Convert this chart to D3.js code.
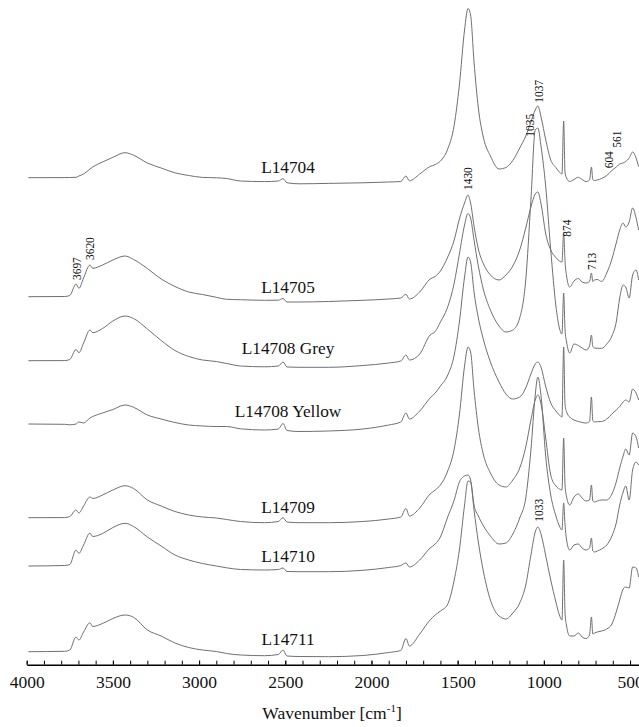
<!DOCTYPE html>
<html>
<head>
<meta charset="utf-8">
<script src="https://cdn.jsdelivr.net/npm/d3@7"></script>
<style>
  body { margin: 0; background: #fff; }
  svg { display: block; font-family: 'Liberation Serif', 'Times New Roman', serif; }
  .trace { fill: none; stroke: #707070; stroke-width: 1; }
</style>
</head>
<body>
<div class="result"></div>
<script>
// shared wavenumber grid (cm-1)
const wavenumbers = [3990, 3780, 3750, 3714, 3697, 3670, 3633, 3617, 3560, 3500,
  3430, 3380, 3300, 3220, 3140, 3060, 2980, 2900, 2840, 2760,
  2620, 2540, 2513, 2490, 2420, 2250, 2050, 1900, 1830, 1800,
  1780, 1720, 1660, 1630, 1600, 1560, 1520, 1490, 1460, 1440,
  1425, 1405, 1380, 1350, 1310, 1260, 1220, 1180, 1140, 1105,
  1075, 1050, 1035, 1015, 990, 960, 930, 910, 895, 885,
  877, 868, 850, 825, 800, 778, 755, 735, 724, 716,
  706, 690, 665, 635, 605, 580, 560, 540, 525, 505,
  485, 465, 450]

const sampleNames = ['L14704', 'L14705', 'L14708 Grey', 'L14708 Yellow', 'L14709', 'L14710', 'L14711']
// vertical stacking offset of each spectrum (a.u.)
const offsets = [486.3, 367.3, 303.3, 240, 146.3, 98, 12.3]
const labelLevels = [490.7, 371, 310, 247.3, 151.3, 102.3, 19]
const labelWavenumber = 2484

// absorbance above each trace's own baseline (a.u.)
const l14704 = [0, 0.1, 0.2, 0.4, 1.7, 3.7, 8.7, 10.7, 15.7, 20.4,
  25, 22.5, 14.7, 9.7, 4.9, 2.2, 0.3, -0.1, -0.8, -3.3,
  -3.9, -3.3, -1, -5.1, -6.1, -5.7, -5.1, -4.3, -3.8, 1.7,
  -3.1, 3.7, 11.2, 13.2, 16.7, 27.7, 52.7, 92.7, 147.7, 169.2,
  162.7, 115.7, 69.7, 39.7, 21.7, 8.7, 10.2, 17.2, 29.7, 41.7,
  55.7, 67.7, 71.7, 59.7, 38.7, 17.7, 10.2, 5.7, 3.7, 56.7,
  4.7, -0.3, -3.8, -1.8, 0.4, -1.8, -3.8, -2.3, 10.7, -1.8,
  -2.8, -2.3, -0.8, 2.2, 7.2, 10.7, 13.7, 14.7, 16.2, 19.7,
  25.7, 19.7, 11]
const l14705 = [0, 0.2, 1.2, 12.7, 8.4, 18.7, 31.7, 28.4, 31.7, 36.7,
  40.7, 37.2, 28.2, 17.7, 10.2, 4.7, 2.2, -0.6, -2.6, -3,
  -3.6, -3.5, -1.8, -5.3, -5.3, -4.8, -3.6, -2.3, -1.3, 2.4,
  -2.3, 4.7, 17.7, 20.2, 25.7, 38.7, 56.7, 77.7, 93.7, 101.7,
  93.7, 70.7, 47.7, 32.7, 21.7, 16.7, 21.7, 30.7, 46.7, 68.7,
  89.7, 102.7, 104.7, 91.7, 63.7, 46.7, 39.2, 35.7, 34.7, 63.7,
  34.7, 20.7, 9.7, 15.7, 18.2, 14.7, 13.7, 15.2, 23.7, 15.2,
  16.7, 17.2, 15.2, 23.7, 37.7, 53.7, 66.7, 73.7, 69.7, 74.7,
  88.7, 78.7, 66.7]
const l14708Grey = [0, 0.1, 1.2, 11.2, 8, 17.7, 30.7, 28, 32.2, 39.7,
  44.7, 42.2, 31.7, 20.2, 10.2, 4.2, 0.7, -0.8, -2.8, -5.3,
  -6.1, -5.3, -1.3, -6.3, -6.6, -6.6, -4.8, -2.3, -0.3, 5.7,
  0.7, 6.7, 25.7, 29.2, 38.7, 52.7, 77.7, 106.7, 135.7, 147.2,
  142.7, 120.7, 94.7, 70.7, 50.7, 34.7, 28.7, 30.7, 42.7, 80.7,
  160.7, 230.7, 232.7, 212.7, 175.7, 110.7, 54.7, 32.7, 26.7, 67.7,
  30.7, 18.7, 7.7, 16.7, 15.2, 12.7, 10.7, 14.7, 25.7, 14.2,
  12.7, 12.4, 12.4, 16.7, 24.7, 38.7, 62.7, 75.7, 73.7, 62.7,
  85.7, 90.7, 80.7]
const l14708Yellow = [0, -0.3, -0.8, 0, 2, 1, 6, 7.5, 11, 14.5,
  19, 16.7, 9, 5, 1.5, -1, -2, -2.5, -2.5, -4.8,
  -6, -5, 0.5, -6.5, -7.5, -7, -5, -1, 2, 11,
  5, 13, 26, 31, 38, 48, 69, 102, 147, 167,
  162, 132, 106, 84, 62, 42, 30, 25, 27, 36,
  50, 60, 62, 56, 38, 21, 13, 9, 7, 77,
  19, 12, 7, 4, 2.5, 1.5, 1, 2.5, 27, 3.5,
  2, 2.3, 2.5, 5, 10, 14, 17.5, 22, 24, 22,
  35, 31, 24]
const l14709 = [0, 0.1, 1.2, 7.7, 4.7, 11.7, 20.7, 19.2, 22.7, 27.7,
  32, 29.2, 17.7, 11.7, 6.2, 2.7, 0.7, -0.3, -1.8, -3.8,
  -5, -3.8, 0, -4.3, -5, -5, -3.8, -1.3, 0.7, 9.2,
  1.7, 9.7, 23.7, 27.7, 32.7, 45.7, 68.7, 102.7, 151.7, 170.7,
  165.7, 127.7, 89.7, 62.7, 44.7, 32.7, 30.7, 37.7, 49.7, 70.7,
  97.7, 117.7, 122.7, 112.7, 80.7, 42.7, 31.7, 28.7, 27.7, 79.7,
  32.7, 20.7, 12.7, 20.7, 23.7, 19.7, 16.7, 17.7, 32.7, 16.7,
  15.7, 16.7, 17.7, 17.7, 23.7, 35.7, 49.7, 61.7, 68.7, 62.7,
  84.7, 80.7, 69.7]
const l14710 = [0, 0.5, 1.5, 16, 12.7, 21, 33, 29.5, 32.5, 38.5,
  42.7, 39.5, 29, 20, 11, 6, 2.5, 0, -1.8, -3.5,
  -4, -3.5, -2, -5.5, -5.7, -5.7, -4.3, -1.5, 0.5, 3,
  -1, 6, 18, 22, 29, 48, 66, 84, 90, 91,
  86, 61, 50, 40, 30, 22, 23, 32, 48, 68,
  116, 171, 189, 168, 111, 71, 50, 40, 36, 63,
  41, 26, 16, 21, 22, 18, 16, 18, 28, 15,
  14, 15, 17, 21, 30, 43, 61, 74, 80, 66,
  96, 104, 101]
const l14711 = [0, 0.4, 1.7, 14.7, 11.7, 19.7, 29, 25.2, 28.2, 33.2,
  36.7, 34.4, 21.7, 15.7, 8.7, 4.2, 1.7, 0.2, -1.8, -3.3,
  -4, -2.8, 1.7, -4.3, -4.8, -5, -3.8, -0.8, 1.2, 13.2,
  5.7, 17.7, 31.7, 36.7, 40.7, 46.7, 71.7, 101.7, 146.7, 170.7,
  169.7, 141.7, 109.7, 79.7, 51.7, 35.7, 32.7, 38.7, 48.7, 66.7,
  96.7, 119.7, 124.7, 116.7, 96.7, 71.7, 49.7, 36.7, 31.7, 91.7,
  38.7, 25.7, 15.7, 15.7, 18.7, 14.7, 13.2, 16.7, 34.7, 17.7,
  18.7, 19.7, 20.7, 22.7, 27.7, 39.7, 51.7, 62.7, 64.7, 63.7,
  84.7, 83.7, 74.7]
const spectra = [l14704, l14705, l14708Grey, l14708Yellow, l14709, l14710, l14711]

// peak annotations
const peakNames = ['3697', '3620', '1430', '1035', '1037', '874', '713', '604', '561', '1033']
const peakPositions = [3714, 3637, 1443, 1086, 1030, 866, 725, 626, 578, 1032]
const peakLevels = [384, 404, 474, 527.3, 561.3, 427.3, 394, 495.7, 516.3, 142.3]

const majorTicks = [4000, 3500, 3000, 2500, 2000, 1500, 1000, 500]
const minorTicks = d3.range(500, 4001, 100)

const width = 639
const height = 727
const axisY = 664.7

const svg = d3
  .select('.result')
  .append('svg')
  .attr('width', width)
  .attr('height', height)

const x = d3.scaleLinear().domain([4000, 448]).range([26.7, 639])
const y = d3.scaleLinear().domain([0, 664]).range([664, 0])

spectra.forEach((values, s) => {
  const line = d3
    .line()
    .x((d, i) => x(wavenumbers[i]))
    .y((d) => y(offsets[s] + d))
    .curve(d3.curveMonotoneX)
  svg.append('path').attr('class', 'trace').attr('d', line(values))
})

svg
  .append('g')
  .selectAll('text')
  .data(sampleNames)
  .enter()
  .append('text')
  .attr('x', x(labelWavenumber))
  .attr('y', (d, i) => y(labelLevels[i]))
  .attr('text-anchor', 'middle')
  .attr('font-size', 17.3)
  .attr('fill', '#111')
  .text((d) => d)

svg
  .append('g')
  .selectAll('text')
  .data(peakNames)
  .enter()
  .append('text')
  .attr('transform', (d, i) => 'translate(' + (x(peakPositions[i]) + 4.5) + ',' + y(peakLevels[i]) + ') rotate(-90)')
  .attr('font-size', 13)
  .attr('textLength', (d) => d.length * 5.7)
  .attr('lengthAdjust', 'spacingAndGlyphs')
  .attr('fill', '#111')
  .text((d) => d)

// minor ticks every 100 cm-1, pointing up
const minorAxis = svg
  .append('g')
  .attr('transform', 'translate(0,' + axisY + ')')
  .call(d3.axisBottom(x).tickValues(minorTicks).tickSize(-4).tickSizeOuter(0).tickFormat(''))
minorAxis.select('.domain').attr('stroke-width', 1.5)

const majorAxis = svg
  .append('g')
  .attr('transform', 'translate(0,' + axisY + ')')
  .call(d3.axisBottom(x).tickValues(majorTicks).tickSize(-4).tickSizeOuter(0).tickPadding(11).tickFormat(d3.format('d')))
majorAxis.select('.domain').remove()
majorAxis
  .selectAll('text')
  .attr('font-family', "'Liberation Serif', 'Times New Roman', serif")
  .attr('font-size', 17.5)
  .attr('fill', '#111')

const title = svg
  .append('text')
  .attr('x', 332)
  .attr('y', 719)
  .attr('text-anchor', 'middle')
  .attr('font-size', 17.5)
  .attr('fill', '#111')
title.append('tspan').text('Wavenumber [cm')
title.append('tspan').attr('dy', -7).attr('font-size', 11).text('-1')
title.append('tspan').attr('dy', 7).text(']')
</script>
</body>
</html>
